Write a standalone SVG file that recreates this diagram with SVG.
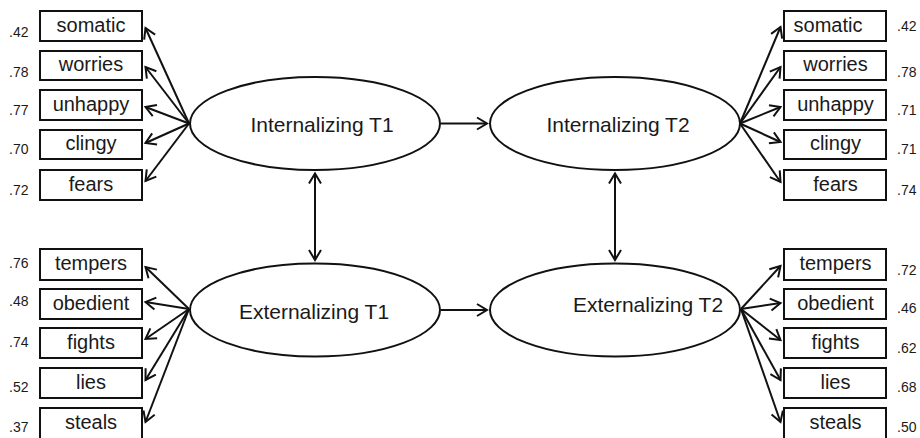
<svg xmlns="http://www.w3.org/2000/svg" width="920" height="438" viewBox="0 0 920 438">
<style>
.box{fill:#fff;stroke:#111;stroke-width:2}
.lat{fill:#fff;stroke:#111;stroke-width:2}
.lbl{font-family:"Liberation Sans",Arial,sans-serif;font-size:20px;fill:#1a1a1a;text-anchor:middle}
.big{font-family:"Liberation Sans",Arial,sans-serif;font-size:21px;fill:#1a1a1a;text-anchor:middle}
.num{font-family:"Liberation Sans",Arial,sans-serif;font-size:14px;fill:#1a1a1a}
.arr{stroke:#111;stroke-width:2;fill:none;marker-end:url(#ah)}
.bi{stroke:#111;stroke-width:2;fill:none;marker-end:url(#ah);marker-start:url(#ah)}
</style>
<defs>
<marker id="ah" markerUnits="userSpaceOnUse" markerWidth="14" markerHeight="14" viewBox="0 0 14 14" refX="10" refY="6" orient="auto-start-reverse" overflow="visible">
<path d="M0,0 L10,6 L0,12" fill="none" stroke="#111" stroke-width="2"/>
</marker>
</defs>
<rect width="920" height="438" fill="#fff"/>

<g id="connectors">
<line class="arr" x1="189" y1="123.5" x2="145.5" y2="28"/>
<line class="arr" x1="189" y1="123.5" x2="145.5" y2="67"/>
<line class="arr" x1="189" y1="123.5" x2="145.5" y2="107"/>
<line class="arr" x1="189" y1="123.5" x2="145.5" y2="143"/>
<line class="arr" x1="189" y1="123.5" x2="145.5" y2="181"/>
<line class="arr" x1="189" y1="309" x2="145.5" y2="267"/>
<line class="arr" x1="189" y1="309" x2="145.5" y2="302"/>
<line class="arr" x1="189" y1="309" x2="145.5" y2="339"/>
<line class="arr" x1="189" y1="309" x2="145.5" y2="380"/>
<line class="arr" x1="189" y1="309" x2="145.5" y2="422"/>
<line class="arr" x1="740" y1="123.5" x2="780.5" y2="27"/>
<line class="arr" x1="740" y1="123.5" x2="780.5" y2="67"/>
<line class="arr" x1="740" y1="123.5" x2="780.5" y2="107"/>
<line class="arr" x1="740" y1="123.5" x2="780.5" y2="142"/>
<line class="arr" x1="740" y1="123.5" x2="780.5" y2="182"/>
<line class="arr" x1="741" y1="309" x2="780.5" y2="266"/>
<line class="arr" x1="741" y1="309" x2="780.5" y2="303"/>
<line class="arr" x1="741" y1="309" x2="780.5" y2="340"/>
<line class="arr" x1="741" y1="309" x2="780.5" y2="380"/>
<line class="arr" x1="741" y1="309" x2="780.5" y2="422"/>
<line class="arr" x1="441" y1="123.5" x2="487" y2="123.5"/>
<line class="arr" x1="441" y1="310" x2="487" y2="310"/>
<line class="bi" x1="315" y1="173.5" x2="315" y2="260"/>
<line class="bi" x1="615" y1="173.5" x2="615" y2="260"/>
</g>

<g id="int-t1"><ellipse class="lat" cx="315" cy="123.5" rx="125" ry="46.5"/><text class="big" x="322" y="132">Internalizing T1</text></g>
<g id="int-t2"><ellipse class="lat" cx="615" cy="123.5" rx="125" ry="46.5"/><text class="big" x="618" y="132">Internalizing T2</text></g>
<g id="ext-t1"><ellipse class="lat" cx="315" cy="310" rx="125" ry="46.5"/><text class="big" x="314" y="319">Externalizing T1</text></g>
<g id="ext-t2"><ellipse class="lat" cx="615" cy="310" rx="125" ry="46.5"/><text class="big" x="648" y="312">Externalizing T2</text></g>

<g id="l-somatic"><rect class="box" x="40" y="11" width="102" height="30"/><text class="lbl" x="91" y="32">somatic</text><text class="num" x="9" y="37">.42</text></g>
<g id="l-worries"><rect class="box" x="40" y="51" width="102" height="29"/><text class="lbl" x="91" y="71">worries</text><text class="num" x="9" y="77">.78</text></g>
<g id="l-unhappy"><rect class="box" x="40" y="90" width="102" height="30"/><text class="lbl" x="91" y="111">unhappy</text><text class="num" x="9" y="115">.77</text></g>
<g id="l-clingy"><rect class="box" x="40" y="130" width="102" height="29"/><text class="lbl" x="91" y="150">clingy</text><text class="num" x="9" y="154">.70</text></g>
<g id="l-fears"><rect class="box" x="40" y="170" width="102" height="30"/><text class="lbl" x="91" y="191">fears</text><text class="num" x="9" y="195">.72</text></g>

<g id="l-tempers"><rect class="box" x="40" y="249" width="102" height="31"/><text class="lbl" x="91" y="270">tempers</text><text class="num" x="9" y="268">.76</text></g>
<g id="l-obedient"><rect class="box" x="40" y="289" width="102" height="30"/><text class="lbl" x="91" y="310">obedient</text><text class="num" x="9" y="306">.48</text></g>
<g id="l-fights"><rect class="box" x="40" y="328" width="102" height="30"/><text class="lbl" x="91" y="349">fights</text><text class="num" x="9" y="347">.74</text></g>
<g id="l-lies"><rect class="box" x="40" y="368" width="102" height="30"/><text class="lbl" x="91" y="389">lies</text><text class="num" x="9" y="392">.52</text></g>
<g id="l-steals"><rect class="box" x="40" y="408" width="102" height="31"/><text class="lbl" x="91" y="429">steals</text><text class="num" x="9" y="432">.37</text></g>

<g id="r-somatic"><rect class="box" x="784" y="11" width="102" height="30"/><text class="lbl" x="828" y="32">somatic</text><text class="num" x="897" y="31">.42</text></g>
<g id="r-worries"><rect class="box" x="784" y="51" width="102" height="29"/><text class="lbl" x="835.5" y="71">worries</text><text class="num" x="897" y="77">.78</text></g>
<g id="r-unhappy"><rect class="box" x="784" y="90" width="102" height="30"/><text class="lbl" x="835.5" y="111">unhappy</text><text class="num" x="897" y="115">.71</text></g>
<g id="r-clingy"><rect class="box" x="784" y="130" width="102" height="29"/><text class="lbl" x="835.5" y="150">clingy</text><text class="num" x="897" y="154">.71</text></g>
<g id="r-fears"><rect class="box" x="784" y="170" width="102" height="30"/><text class="lbl" x="835.5" y="191">fears</text><text class="num" x="897" y="195">.74</text></g>

<g id="r-tempers"><rect class="box" x="784" y="249" width="102" height="31"/><text class="lbl" x="835.5" y="270">tempers</text><text class="num" x="897" y="275">.72</text></g>
<g id="r-obedient"><rect class="box" x="784" y="289" width="102" height="30"/><text class="lbl" x="835.5" y="310">obedient</text><text class="num" x="897" y="313">.46</text></g>
<g id="r-fights"><rect class="box" x="784" y="328" width="102" height="30"/><text class="lbl" x="835.5" y="349">fights</text><text class="num" x="897" y="353">.62</text></g>
<g id="r-lies"><rect class="box" x="784" y="368" width="102" height="30"/><text class="lbl" x="835.5" y="389">lies</text><text class="num" x="897" y="392">.68</text></g>
<g id="r-steals"><rect class="box" x="784" y="408" width="102" height="31"/><text class="lbl" x="835.5" y="429">steals</text><text class="num" x="897" y="432">.50</text></g>
</svg>
